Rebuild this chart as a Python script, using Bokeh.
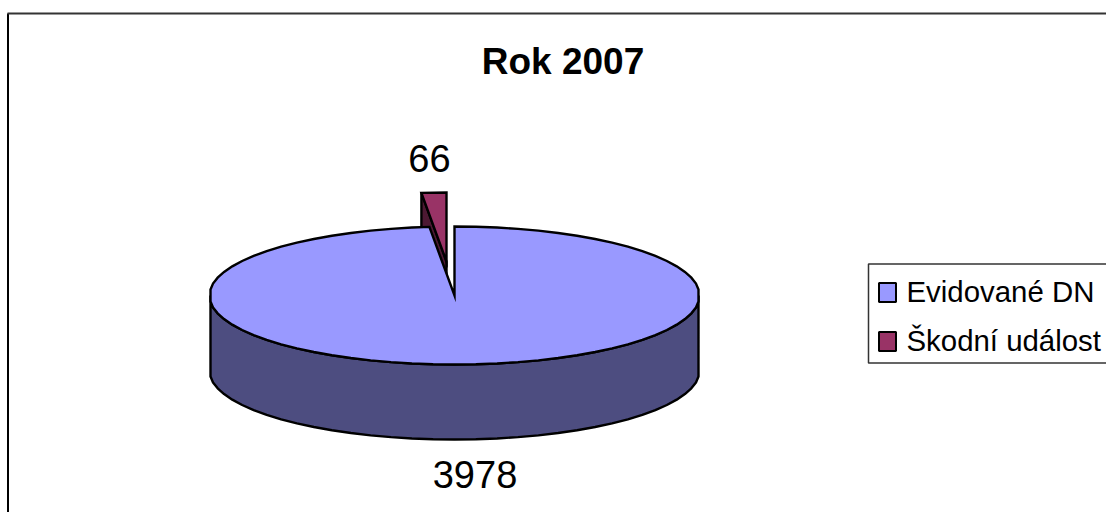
import math
from bokeh.plotting import figure
from bokeh.models import Range1d
from bokeh.core.properties import value
from bokeh.embed import file_html
from bokeh.resources import INLINE

title = "Rok 2007"
categories = ["Evidované DN", "Škodní událost"]
values = [3978, 66]
colors = ["#9999FF", "#993366"]
side_colors = ["#4D4D80", "#4D1933"]

cx, cy, rx, ry, depth = 454, 295, 245.2, 69, 75
xmin, xmax = 210, 698
explode = (-8, -34)
segments = 72
step = 360 / segments
sweep_big = 360 * values[0] / sum(values)
lw = 2.4


def pt(t, dx=0, dy=0):
    r = math.radians(t)
    x = max(xmin, min(xmax, cx + rx * math.sin(r)))
    return (x + dx, cy - ry * math.cos(r) + dy)


verts = [i * step for i in range(segments + 1)]

p = figure(width=1106, height=512, output_backend="svg", toolbar_location=None,
           x_range=Range1d(0, 1106), y_range=Range1d(512, 0),
           min_border=0, min_border_left=0, min_border_right=0, min_border_top=0, min_border_bottom=0)
p.axis.visible = False
p.grid.visible = False
p.outline_line_color = None
p.background_fill_color = "#FFFFFF"
p.border_fill_color = "#FFFFFF"

# exploded small slice: cut wall
a = pt(sweep_big, dx=explode[0], dy=explode[1])
apex = (cx + explode[0], cy + explode[1])
end = pt(360, dx=explode[0], dy=explode[1])

p.patch([a[0], apex[0], apex[0], a[0]], [a[1], apex[1], apex[1] + depth, a[1] + depth],
        fill_color=side_colors[1], line_color="#000000", line_width=lw)

# big slice: outer wall
lower = [t for t in verts if 90 <= t <= 270]
wall = [pt(t) for t in lower] + [pt(t, dy=depth) for t in reversed(lower)]
p.patch([q[0] for q in wall], [q[1] for q in wall],
        fill_color=side_colors[0], line_color="#000000", line_width=lw)

# big slice: top face
face = [(cx, cy)] + [pt(t) for t in verts if t < sweep_big] + [pt(sweep_big)]
p.patch([q[0] for q in face], [q[1] for q in face],
        fill_color=colors[0], line_color="#000000", line_width=lw, line_join="miter")

# small slice: top face
p.patch([apex[0], a[0], end[0]], [apex[1], a[1], end[1]],
        fill_color=colors[1], line_color="#000000", line_width=lw, line_join="miter")

# chart frame
p.line([7.5, 7.5], [13, 512], line_color="#000000", line_width=2)
p.line([7, 1106], [13, 13], line_color="#333333", line_width=2)

font = value("Liberation Sans")
p.text([562.5], [61], text=[title], text_font=font, text_font_size="37px", text_font_style="bold",
       text_align="center", text_baseline="middle", text_color="#000000")
p.text([429], [158], text=[str(values[1])], text_font=font, text_font_size="38px",
       text_align="center", text_baseline="middle", text_color="#000000")
p.text([474.5], [474], text=[str(values[0])], text_font=font, text_font_size="38px",
       text_align="center", text_baseline="middle", text_color="#000000")

# legend
p.line([1106, 868, 868, 1106], [263.5, 263.5, 362.5, 362.5], line_color="#333333", line_width=1.5)
legend_y = [292, 341]
p.rect([887, 887], legend_y, width=17, height=19, fill_color=colors, line_color="#000000", line_width=2)
p.text([906, 906], [290.5, 339.5], text=categories, text_font=font, text_font_size="29.4px",
       text_align="left", text_baseline="middle", text_color="#000000")

open("out.html", "w").write(file_html(p, INLINE))
